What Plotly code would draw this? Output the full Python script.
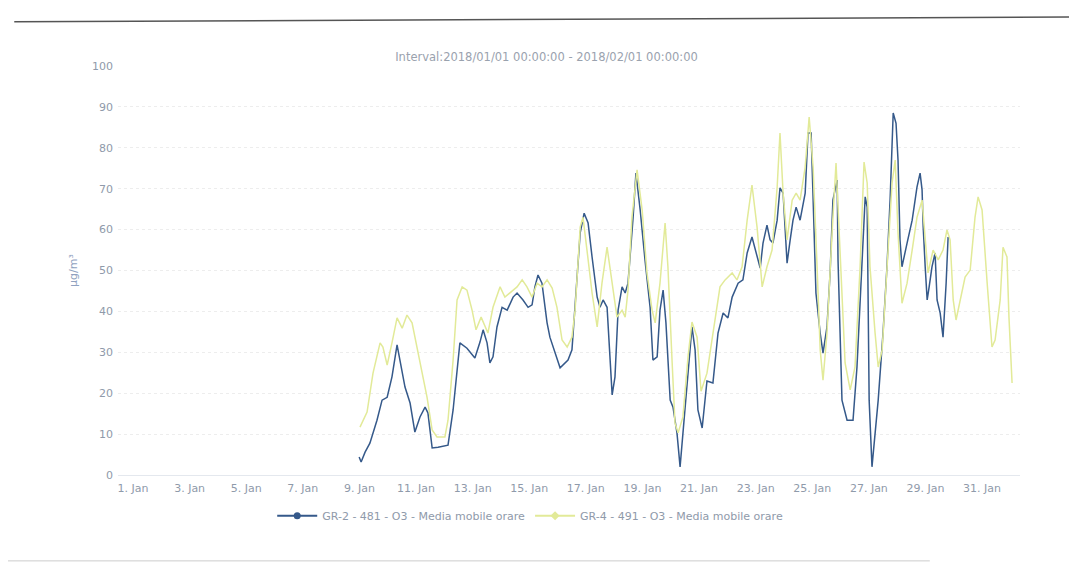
import pandas as pd
import plotly.graph_objects as go

title_text = "Interval:2018/01/01 00:00:00 - 2018/02/01 00:00:00"
name_a = "GR-2 - 481 - O3 - Media mobile orare"
name_b = "GR-4 - 491 - O3 - Media mobile orare"
y_title = "µg/m³"

# day of January (fractional) and values
gr2_day = [8.99, 9.06, 9.20, 9.37, 9.62, 9.80, 9.98, 10.15, 10.33, 10.51, 10.61, 10.79, 10.96,
           11.14, 11.32, 11.42, 11.57, 11.78, 12.13, 12.31, 12.45, 12.55, 12.80, 13.08, 13.26,
           13.37, 13.51, 13.61, 13.72, 13.86, 14.04, 14.22, 14.43, 14.57, 14.78, 14.96, 15.10,
           15.20, 15.31, 15.45, 15.63, 15.73, 16.09, 16.37, 16.51, 16.69, 16.80, 16.94, 17.08,
           17.22, 17.40, 17.50, 17.61, 17.75, 17.86, 17.93, 18.03, 18.14, 18.28, 18.39, 18.49,
           18.56, 18.67, 18.77, 18.92, 19.09, 19.27, 19.37, 19.52, 19.62, 19.73, 19.83, 19.98,
           20.08, 20.22, 20.33, 20.43, 20.61, 20.75, 20.86, 20.96, 21.11, 21.28, 21.49, 21.67,
           21.85, 22.02, 22.17, 22.38, 22.55, 22.70, 22.87, 23.05, 23.16, 23.26, 23.40, 23.51,
           23.61, 23.76, 23.86, 23.97, 24.11, 24.22, 24.32, 24.43, 24.57, 24.75, 24.85, 24.96,
           25.03, 25.13, 25.28, 25.38, 25.52, 25.63, 25.73, 25.88, 25.91, 26.05, 26.23, 26.44,
           26.58, 26.76, 26.87, 26.94, 26.97, 27.01, 27.11, 27.22, 27.33, 27.50, 27.64, 27.75,
           27.86, 27.96, 28.03, 28.10, 28.17, 28.35, 28.53, 28.70, 28.81, 28.88, 28.92, 28.99,
           29.06, 29.13, 29.23, 29.34, 29.41, 29.52, 29.62, 29.73, 29.80]
gr2_val = [4.4, 3.2, 5.6, 7.8, 13.4, 18.3, 19.0, 24.0, 31.8, 25.7, 21.5, 17.6, 10.5,
           14.2, 16.6, 15.2, 6.6, 6.8, 7.3, 15.9, 24.9, 32.3, 31.0, 28.6, 32.5,
           35.5, 32.3, 27.4, 28.9, 36.2, 41.0, 40.3, 43.5, 44.5, 42.8, 41.0, 41.6,
           46.0, 48.9, 46.9, 37.2, 33.7, 26.2, 28.1, 30.6, 46.9, 59.2, 64.0, 61.6,
           53.3, 43.5, 41.0, 42.8, 41.0, 26.4, 19.6, 24.0, 40.3, 46.0, 44.5, 46.9,
           52.6, 63.0, 73.8, 64.8, 52.6, 41.0, 28.1, 28.9, 40.3, 45.2, 37.2, 18.3,
           16.6, 10.3, 2.0, 10.3, 26.4, 36.2, 30.6, 15.9, 11.5, 23.0, 22.5, 34.7,
           39.6, 38.4, 43.5, 46.9, 47.7, 54.3, 58.2, 53.3, 50.6, 56.7, 61.1, 57.5,
           56.7, 62.3, 70.2, 68.9, 51.8, 57.5, 62.3, 65.5, 62.3, 68.9, 83.6, 83.6,
           67.2, 44.5, 34.7, 29.8, 36.2, 49.4, 67.2, 72.1, 52.6, 18.3, 13.4, 13.4,
           26.4, 50.9, 68.0, 65.5, 42.8, 18.3, 2.0, 10.3, 18.3, 34.7, 50.9, 67.2,
           88.5, 86.0, 77.0, 57.5, 50.9, 56.7, 62.3, 70.4, 73.8, 69.7, 60.6, 50.9,
           42.8, 46.0, 50.9, 54.3, 42.8, 39.6, 33.7, 46.9, 58.2]

gr4_day = [9.02, 9.27, 9.48, 9.73, 9.83, 9.98, 10.15, 10.33, 10.51, 10.68, 10.86, 11.04,
           11.21, 11.39, 11.57, 11.74, 12.02, 12.13, 12.31, 12.45, 12.63, 12.80, 12.98, 13.12,
           13.30, 13.44, 13.54, 13.72, 13.97, 14.14, 14.32, 14.57, 14.75, 14.92, 15.10, 15.28,
           15.45, 15.63, 15.81, 15.98, 16.16, 16.34, 16.51, 16.62, 16.80, 16.90, 17.04, 17.22,
           17.40, 17.57, 17.75, 17.93, 18.10, 18.28, 18.39, 18.49, 18.63, 18.81, 18.99, 19.16,
           19.34, 19.45, 19.62, 19.80, 19.90, 20.05, 20.15, 20.26, 20.43, 20.61, 20.75, 20.93,
           21.07, 21.28, 21.49, 21.74, 21.92, 22.17, 22.34, 22.52, 22.70, 22.87, 23.05, 23.23,
           23.40, 23.58, 23.76, 23.86, 23.97, 24.11, 24.29, 24.43, 24.57, 24.75, 24.89, 25.03,
           25.17, 25.28, 25.38, 25.52, 25.70, 25.84, 25.98, 26.16, 26.34, 26.51, 26.69, 26.83,
           26.94, 27.04, 27.22, 27.33, 27.47, 27.64, 27.82, 27.93, 28.03, 28.17, 28.35, 28.53,
           28.70, 28.88, 28.99, 29.09, 29.27, 29.45, 29.62, 29.76, 29.87, 29.98, 30.08, 30.22,
           30.40, 30.58, 30.75, 30.86, 31.00, 31.18, 31.35, 31.46, 31.64, 31.74, 31.88, 31.95,
           32.06]
gr4_val = [11.7, 15.4, 24.9, 32.3, 31.3, 26.9, 32.3, 38.4, 35.9, 39.1, 37.2, 31.3,
           24.9, 19.0, 11.0, 9.3, 9.3, 13.4, 28.1, 42.8, 46.0, 45.2, 40.3, 35.5,
           38.6, 36.2, 34.7, 41.0, 46.0, 43.5, 44.5, 46.0, 47.7, 46.0, 43.5, 46.9,
           46.0, 47.7, 45.7, 41.0, 33.0, 31.3, 33.7, 40.3, 60.6, 63.0, 55.0, 44.5,
           36.2, 46.9, 55.7, 46.9, 38.6, 40.3, 38.6, 45.2, 63.0, 74.6, 64.8, 49.4,
           40.3, 37.2, 46.9, 61.6, 50.9, 27.4, 12.7, 10.3, 14.2, 28.9, 37.4, 33.7,
           20.5, 24.9, 34.7, 46.0, 47.7, 49.4, 47.7, 50.9, 62.3, 70.9, 60.6, 46.0,
           50.9, 55.0, 70.4, 83.6, 68.9, 57.5, 67.2, 68.9, 67.2, 75.3, 87.5, 75.3,
           50.9, 30.6, 23.2, 34.7, 59.2, 76.3, 55.0, 27.4, 20.8, 26.4, 50.9, 76.5,
           71.4, 50.9, 34.7, 26.4, 30.6, 50.9, 71.4, 77.0, 59.2, 42.0, 46.9, 55.0,
           63.0, 67.2, 57.5, 49.4, 55.0, 52.6, 55.0, 59.9, 57.5, 42.8, 37.9, 42.8,
           48.4, 50.1, 63.0, 68.0, 64.8, 46.9, 31.3, 33.0, 42.8, 55.7, 53.3, 38.6,
           22.5]

tick_days = [1, 3, 5, 7, 9, 11, 13, 15, 17, 19, 21, 23, 25, 27, 29, 31]
tick_text = [f"{d}. Jan" for d in tick_days]
y_ticks = [0, 10, 20, 30, 40, 50, 60, 70, 80, 90, 100]
x_range_days = [0.47, 32.34]

base = pd.Timestamp("2018-01-01")
def to_time(days):
    return [base + pd.to_timedelta(d - 1, unit="D") for d in days]

blue = "#35598a"
yellow = "#e2ea98"
txt = "#8f9aaa"
font_family = "DejaVu Sans, Verdana, sans-serif"

fig = go.Figure()
fig.add_trace(go.Scatter(x=to_time(gr2_day), y=gr2_val, mode="lines",
                         line=dict(color=blue, width=1.5), showlegend=False))
fig.add_trace(go.Scatter(x=to_time(gr4_day), y=gr4_val, mode="lines",
                         line=dict(color=yellow, width=1.5), showlegend=False))
fig.add_trace(go.Scatter(x=[None], y=[None], mode="lines+markers", name=name_a,
                         line=dict(color=blue, width=2), marker=dict(color=blue, size=7)))
fig.add_trace(go.Scatter(x=[None], y=[None], mode="lines+markers", name=name_b,
                         line=dict(color=yellow, width=2), marker=dict(color=yellow, size=7, symbol="diamond")))

fig.update_layout(
    width=1077, height=568,
    margin=dict(l=110, r=65, t=58, b=101),
    paper_bgcolor="white", plot_bgcolor="white",
    font=dict(family=font_family, size=11, color=txt),
    title=dict(text=title_text, x=0.5, xanchor="center", y=0.914, yanchor="middle",
               font=dict(size=11.5, color="#9aa2ae")),
    xaxis=dict(range=to_time(x_range_days), tickvals=to_time(tick_days), ticktext=tick_text,
               showgrid=False, showline=True, linecolor="#e4e8ee", ticks="",
               ticklabelstandoff=3, tickfont=dict(size=11, color=txt)),
    yaxis=dict(range=[0, 100], tickvals=y_ticks, showgrid=True, gridcolor="#ededed",
               griddash="dot", zeroline=False, ticks="", ticklabelstandoff=4,
               tickfont=dict(size=11, color=txt),
               title=dict(text=y_title, font=dict(size=11, color="#8fa2c0"), standoff=12)),
    legend=dict(orientation="h", x=0.457, xanchor="center", y=-0.064, yanchor="top",
                font=dict(size=11, color=txt), itemwidth=40),
    shapes=[
        dict(type="line", xref="paper", yref="paper", x0=-0.115, x1=1.08, y0=1.108, y1=1.12,
             line=dict(color="#555555", width=1.5)),
        dict(type="line", xref="paper", yref="paper", x0=-0.13, x1=0.9, y0=-0.21, y1=-0.21,
             line=dict(color="#cccccc", width=1)),
    ],
)

fig.write_html("out.html")
